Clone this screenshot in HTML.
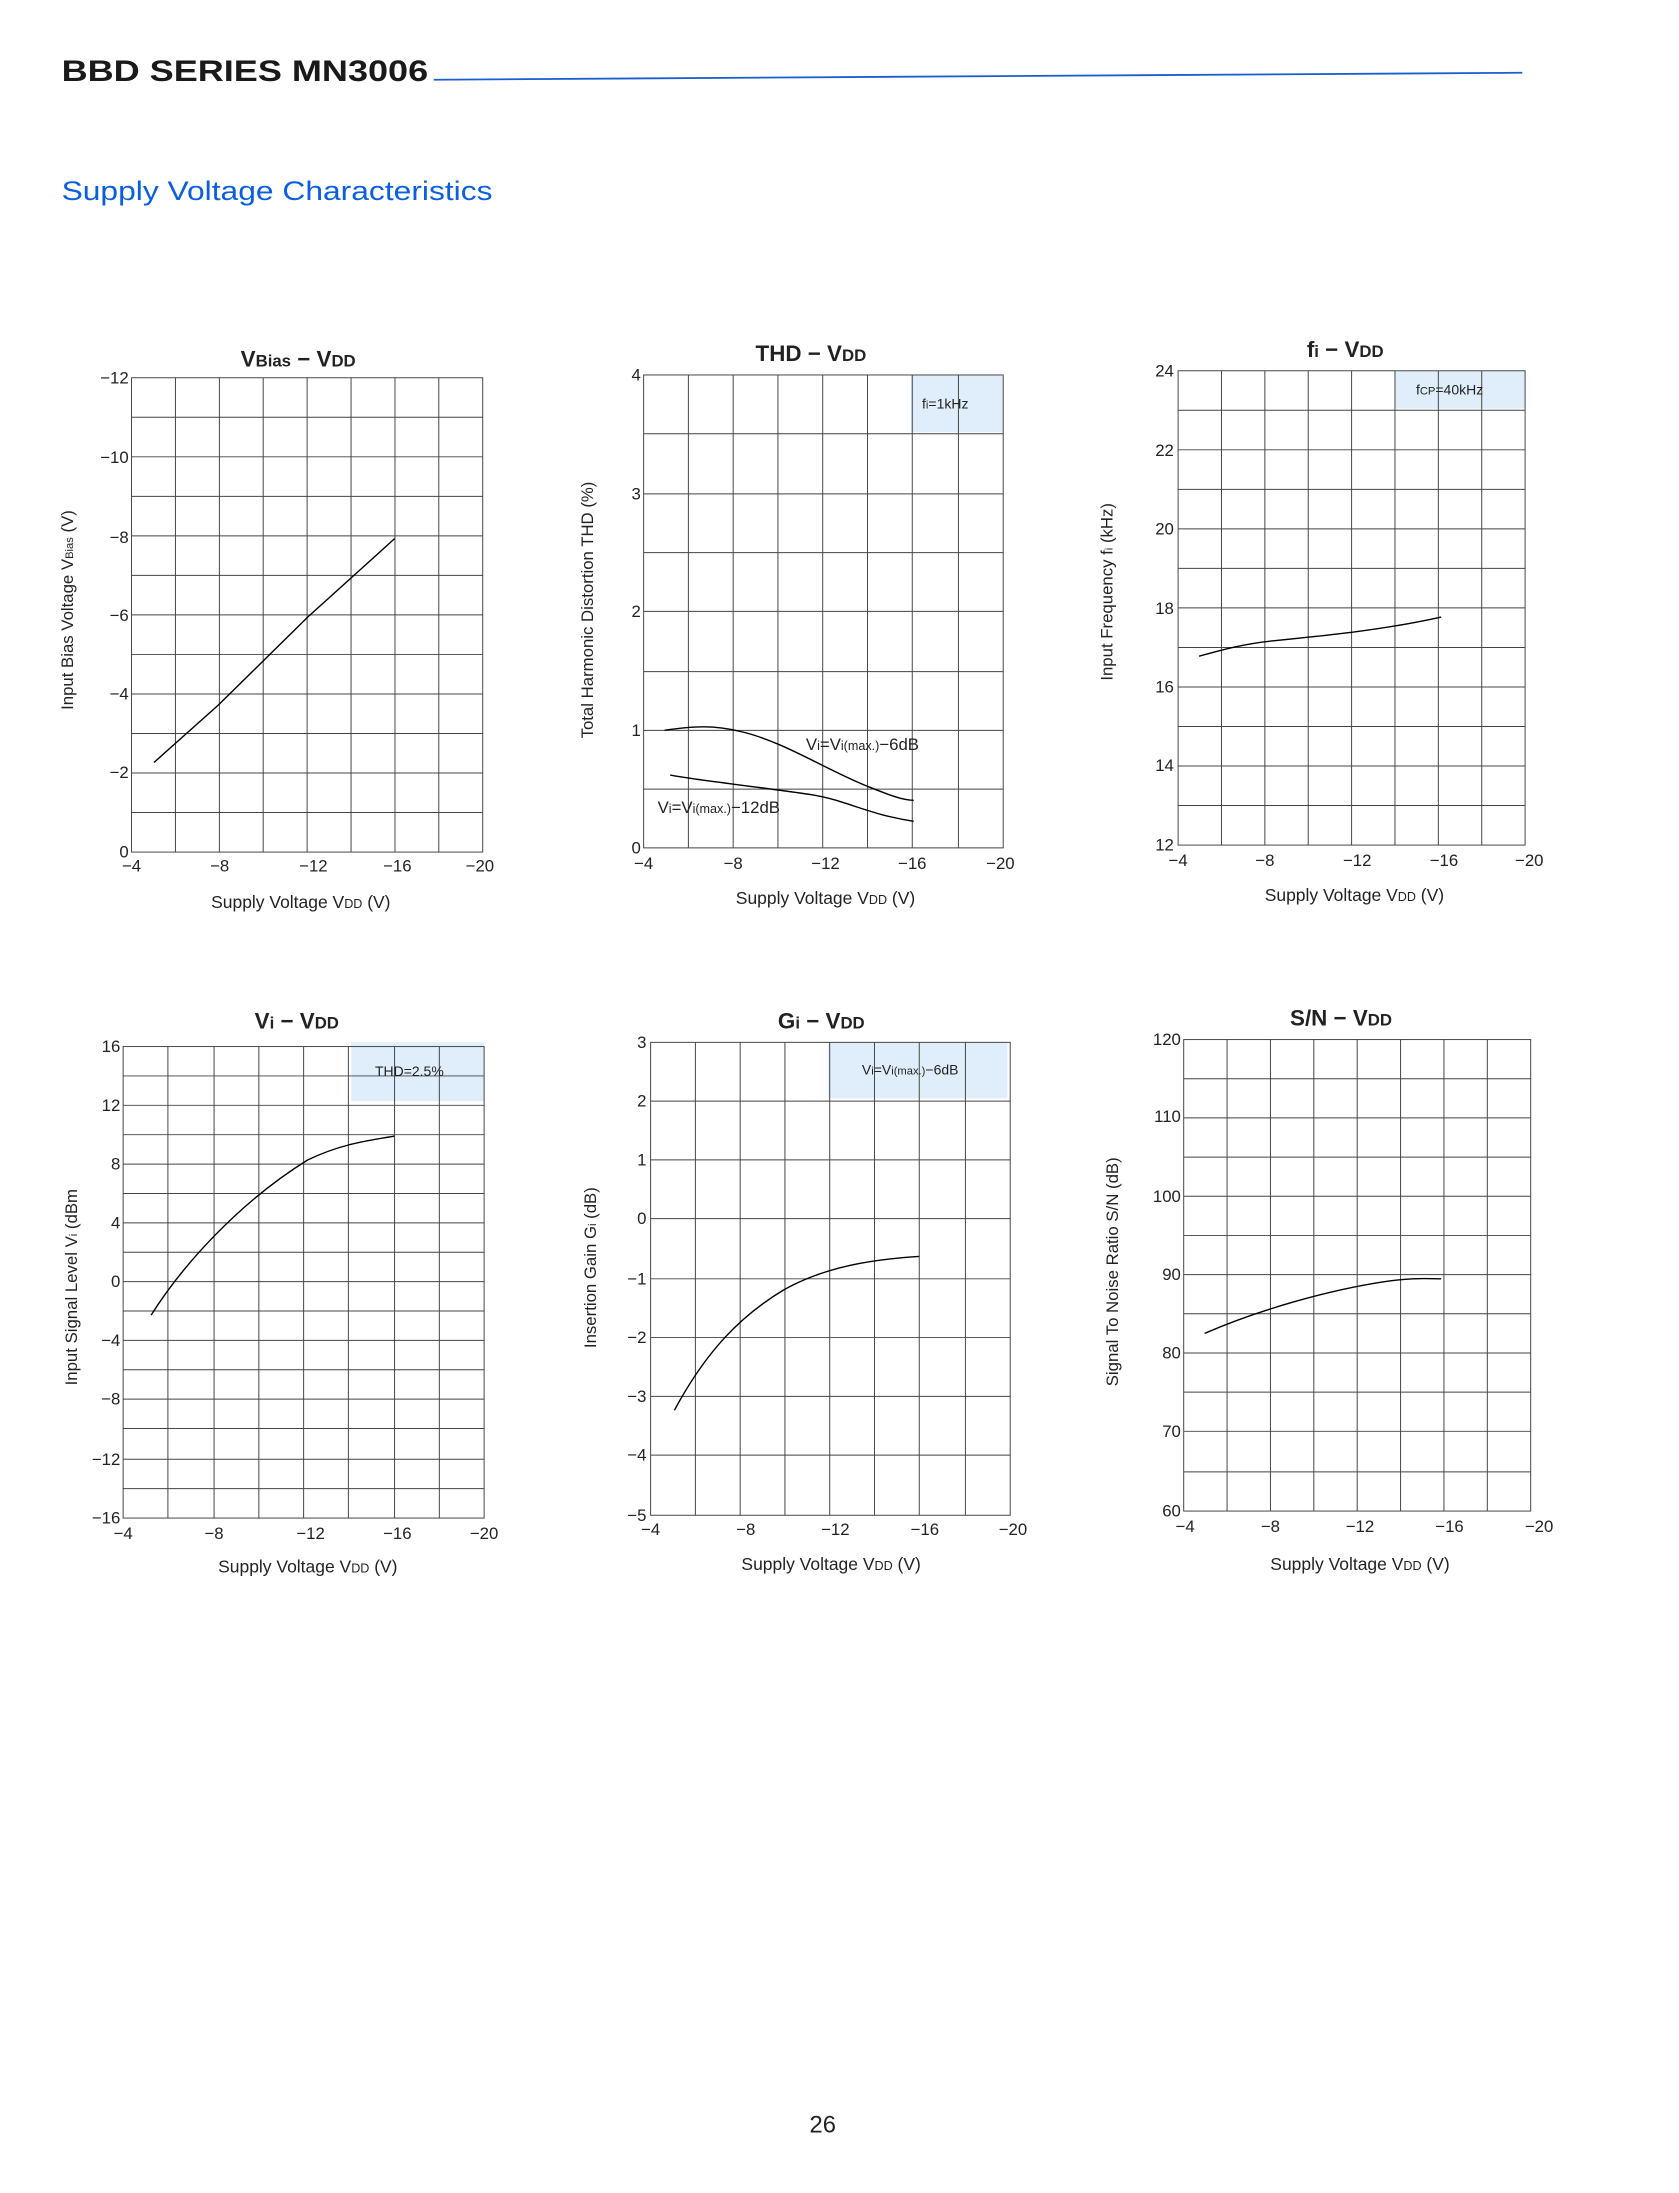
<!DOCTYPE html>
<html><head><meta charset="utf-8"><style>
html,body{margin:0;padding:0;background:#fff;}
svg{display:block}
text{font-family:"Liberation Sans",sans-serif;fill:#222}
</style></head><body>
<svg width="1679" height="2193" viewBox="0 0 1200 1567.4" preserveAspectRatio="none" xmlns="http://www.w3.org/2000/svg">
<rect width="1200" height="1567.4" fill="#fff"/>
<text x="44" y="58" font-size="21" font-weight="bold" textLength="262" lengthAdjust="spacingAndGlyphs" style="fill:#1a1a1a">BBD SERIES MN3006</text>
<line x1="310" y1="57" x2="1088" y2="52" stroke="#1a5fd0" stroke-width="1.3"/>
<text x="44" y="143" font-size="19" textLength="308" lengthAdjust="spacingAndGlyphs" style="fill:#0a5fe0">Supply  Voltage  Characteristics</text>

<g stroke="#444" stroke-width="0.7" fill="none">
<rect x="94" y="270" width="251" height="339"/>
<path d="M125.4 270V609M156.8 270V609M188.1 270V609M219.5 270V609M250.9 270V609M282.3 270V609M313.6 270V609"/>
<path d="M94 298.25H345M94 326.5H345M94 354.75H345M94 383H345M94 411.25H345M94 439.5H345M94 467.75H345M94 496H345M94 524.25H345M94 552.5H345M94 580.75H345"/>
<path d="M110 545 L156 504 L220 441 L282 385" stroke="#000" stroke-width="1"/>
<rect x="651" y="268" width="66" height="41" fill="#dfeefa" stroke="none"/>
<rect x="460" y="268" width="257" height="338"/>
<path d="M492 268V606M524 268V606M556 268V606M588 268V606M620 268V606M652 268V606M685 268V606"/>
<path d="M460 310H717M460 353H717M460 395H717M460 437H717M460 480H717M460 522H717M460 564H717"/>
<path d="M475 522 C495 519 510 518 530 523 C560 530 590 550 620 562 C635 568 645 572 653 572" stroke="#000" stroke-width="1"/>
<path d="M479 554 C500 558 540 562 580 568 C605 572 620 582 653 587" stroke="#000" stroke-width="1"/>
<rect x="997" y="265" width="93" height="27" fill="#dfeefa" stroke="none"/>
<rect x="842" y="265" width="248" height="339"/>
<path d="M873 265V604M904 265V604M935 265V604M966 265V604M997 265V604M1028 265V604M1059 265V604"/>
<path d="M842 293.25H1090M842 321.5H1090M842 349.75H1090M842 378H1090M842 406.25H1090M842 434.5H1090M842 462.75H1090M842 491H1090M842 519.25H1090M842 547.5H1090M842 575.75H1090"/>
<path d="M857 469 C875 464 890 460 910 458 C950 454 990 450 1030 441" stroke="#000" stroke-width="1"/>
<rect x="251" y="745" width="95" height="42" fill="#dfeefa" stroke="none"/>
<rect x="88" y="748" width="258" height="337"/>
<path d="M120 748V1085M153 748V1085M185 748V1085M217 748V1085M249 748V1085M282 748V1085M314 748V1085"/>
<path d="M88 769H346M88 790H346M88 811H346M88 832H346M88 853H346M88 874H346M88 895H346M88 916H346M88 937H346M88 958H346M88 979H346M88 1000H346M88 1021H346M88 1043H346M88 1064H346"/>
<path d="M108 940 C130 905 170 860 220 829 C245 817 265 815 282 812" stroke="#000" stroke-width="1"/>
<rect x="592" y="745" width="128" height="40" fill="#dfeefa" stroke="none"/>
<rect x="465" y="745" width="257" height="338"/>
<path d="M497 745V1083M529 745V1083M561 745V1083M593 745V1083M625 745V1083M657 745V1083M690 745V1083"/>
<path d="M465 787H722M465 829H722M465 871H722M465 914H722M465 956H722M465 998H722M465 1040H722"/>
<path d="M482 1008 C505 965 530 940 560 922 C590 905 625 900 657 898" stroke="#000" stroke-width="1"/>
<rect x="846" y="743" width="248" height="337"/>
<path d="M877 743V1080M908 743V1080M939 743V1080M970 743V1080M1001 743V1080M1032 743V1080M1063 743V1080"/>
<path d="M846 771H1094M846 799H1094M846 827H1094M846 855H1094M846 883H1094M846 911H1094M846 939H1094M846 967H1094M846 995H1094M846 1023H1094M846 1052H1094"/>
<path d="M861 953 C900 936 950 922 990 916 C1010 913 1020 914 1030 914" stroke="#000" stroke-width="1"/>
</g>

<g font-size="12">
<text x="172" y="262" font-size="16" font-weight="bold">V<tspan font-size="12">Bias</tspan> − V<tspan font-size="12">DD</tspan></text>
<text x="540" y="258" font-size="16" font-weight="bold">THD − V<tspan font-size="12">DD</tspan></text>
<text x="934" y="255" font-size="16" font-weight="bold">f<tspan font-size="12">i</tspan> − V<tspan font-size="12">DD</tspan></text>
<text x="182" y="735" font-size="16" font-weight="bold">V<tspan font-size="12">i</tspan> − V<tspan font-size="12">DD</tspan></text>
<text x="556" y="735" font-size="16" font-weight="bold">G<tspan font-size="12">i</tspan> − V<tspan font-size="12">DD</tspan></text>
<text x="922" y="733" font-size="16" font-weight="bold">S/N − V<tspan font-size="12">DD</tspan></text>
<text x="659" y="292" font-size="10">f<tspan font-size="8">i</tspan>=1kHz</text>
<text x="1012" y="282" font-size="10">f<tspan font-size="8">CP</tspan>=40kHz</text>
<text x="268" y="769" font-size="10">THD=2.5%</text>
<text x="616" y="768" font-size="10">V<tspan font-size="8">i</tspan>=V<tspan font-size="8">i(max.)</tspan>−6dB</text>
<text x="576" y="536" font-size="12">V<tspan font-size="9">i</tspan>=V<tspan font-size="9">i(max.)</tspan>−6dB</text>
<text x="470" y="581" font-size="12">V<tspan font-size="9">i</tspan>=V<tspan font-size="9">i(max.)</tspan>−12dB</text>
<g text-anchor="middle">
<text x="94" y="623">−4</text><text x="157" y="623">−8</text><text x="224" y="623">−12</text><text x="284" y="623">−16</text><text x="343" y="623">−20</text>
<text x="460" y="621">−4</text><text x="524" y="621">−8</text><text x="590" y="621">−12</text><text x="652" y="621">−16</text><text x="715" y="621">−20</text>
<text x="842" y="619">−4</text><text x="904" y="619">−8</text><text x="970" y="619">−12</text><text x="1032" y="619">−16</text><text x="1093" y="619">−20</text>
<text x="88" y="1100">−4</text><text x="153" y="1100">−8</text><text x="222" y="1100">−12</text><text x="284" y="1100">−16</text><text x="346" y="1100">−20</text>
<text x="465" y="1097">−4</text><text x="533" y="1097">−8</text><text x="597" y="1097">−12</text><text x="661" y="1097">−16</text><text x="724" y="1097">−20</text>
<text x="847" y="1095">−4</text><text x="908" y="1095">−8</text><text x="972" y="1095">−12</text><text x="1036" y="1095">−16</text><text x="1100" y="1095">−20</text>
<text x="215" y="649" font-size="12.5">Supply  Voltage   V<tspan font-size="9">DD</tspan>  (V)</text>
<text x="590" y="646" font-size="12.5">Supply  Voltage   V<tspan font-size="9">DD</tspan>  (V)</text>
<text x="968" y="644" font-size="12.5">Supply  Voltage  V<tspan font-size="9">DD</tspan>  (V)</text>
<text x="220" y="1124" font-size="12.5">Supply  Voltage  V<tspan font-size="9">DD</tspan>  (V)</text>
<text x="594" y="1122" font-size="12.5">Supply  Voltage  V<tspan font-size="9">DD</tspan>  (V)</text>
<text x="972" y="1122" font-size="12.5">Supply  Voltage  V<tspan font-size="9">DD</tspan>  (V)</text>
</g>
<g text-anchor="end">
<text x="92" y="274">−12</text><text x="92" y="331">−10</text><text x="92" y="388">−8</text><text x="92" y="444">−6</text><text x="92" y="500">−4</text><text x="92" y="556">−2</text><text x="92" y="613">0</text>
<text x="458" y="272">4</text><text x="458" y="357">3</text><text x="458" y="441">2</text><text x="458" y="526">1</text><text x="458" y="610">0</text>
<text x="839" y="269">24</text><text x="839" y="326">22</text><text x="839" y="382">20</text><text x="839" y="439">18</text><text x="839" y="495">16</text><text x="839" y="551">14</text><text x="839" y="608">12</text>
<text x="86" y="752">16</text><text x="86" y="794">12</text><text x="86" y="836">8</text><text x="86" y="878">4</text><text x="86" y="920">0</text><text x="86" y="962">−4</text><text x="86" y="1004">−8</text><text x="86" y="1047">−12</text><text x="86" y="1089">−16</text>
<text x="462" y="749">3</text><text x="462" y="791">2</text><text x="462" y="833">1</text><text x="462" y="875">0</text><text x="462" y="918">−1</text><text x="462" y="960">−2</text><text x="462" y="1002">−3</text><text x="462" y="1044">−4</text><text x="462" y="1087">−5</text>
<text x="844" y="747">120</text><text x="844" y="802">110</text><text x="844" y="859">100</text><text x="844" y="915">90</text><text x="844" y="971">80</text><text x="844" y="1027">70</text><text x="844" y="1084">60</text>
</g>
<text transform="translate(52,436) rotate(-90)" text-anchor="middle" font-size="12">Input  Bias  Voltage    V<tspan font-size="8">Bias</tspan>  (V)</text>
<text transform="translate(424,436) rotate(-90)" text-anchor="middle" font-size="12">Total  Harmonic  Distortion    THD  (%)</text>
<text transform="translate(795,423) rotate(-90)" text-anchor="middle" font-size="12">Input  Frequency    f<tspan font-size="8">i</tspan>  (kHz)</text>
<text transform="translate(55,920) rotate(-90)" text-anchor="middle" font-size="12">Input  Signal  Level    V<tspan font-size="8">i</tspan>  (dBm</text>
<text transform="translate(426,906) rotate(-90)" text-anchor="middle" font-size="12">Insertion  Gain    G<tspan font-size="8">i</tspan>  (dB)</text>
<text transform="translate(799,909) rotate(-90)" text-anchor="middle" font-size="12">Signal  To  Noise  Ratio    S/N  (dB)</text>
</g>
<text x="588" y="1524" font-size="17" text-anchor="middle">26</text>
</svg>
</body></html>
